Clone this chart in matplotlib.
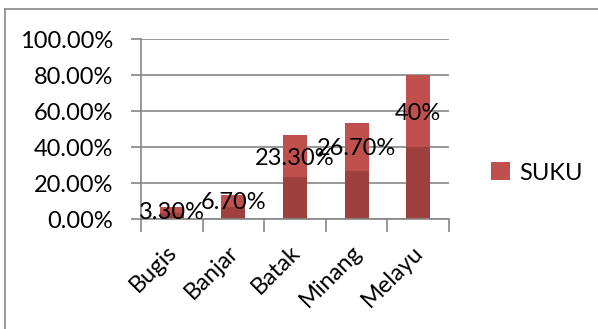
import numpy as np
import matplotlib
matplotlib.use('Agg')
from matplotlib import pyplot as plt
from matplotlib.lines import Line2D
from matplotlib.ticker import FixedLocator
from matplotlib.transforms import ScaledTranslation

# datos
suku = ['Bugis', 'Banjar', 'Batak', 'Minang', 'Melayu']
nilai = [3.3, 6.7, 23.3, 26.7, 40.0]
etiquetas = ['3.30%', '6.70%', '23.30%', '26.70%', '40%']
yticks = [0, 20, 40, 60, 80, 100]
yticklabels = ['0.00%', '20.00%', '40.00%', '60.00%', '80.00%', '100.00%']

plt.rcParams['font.family'] = ['Lato', 'DejaVu Sans']
fs = 17

fig = plt.figure(figsize=(5.98, 3.29), dpi=100)
ax = fig.add_axes([141/598, 1-219/329, (449-141)/598, (219-39)/329])

x = np.arange(len(suku))
v = np.array(nilai)
ax.bar(x, v, width=0.39, color='#9E413E', zorder=2)
ax.bar(x, v, bottom=v, width=0.39, color='#C0504D', zorder=2, label='SUKU')
for xi, vi, lab in zip(x, v, etiquetas):
    ax.text(xi, vi*1.5, lab, ha='center', va='center_baseline', fontsize=fs, zorder=3)

ax.set_xlim(-0.5, 4.5)
ax.set_ylim(0, 100)
ax.set_yticks(yticks)
ax.set_yticklabels(yticklabels, fontsize=fs)
ax.yaxis.grid(True, color='#868686', lw=1.2, zorder=0)
ax.set_axisbelow(True)
ax.tick_params(axis='y', length=7, color='#868686', width=1.2, pad=13)

ax.set_xticks(x)
ax.set_xticklabels(suku, fontsize=fs, rotation=45, ha='right', rotation_mode='anchor')
ax.xaxis.set_minor_locator(FixedLocator(np.arange(-0.5, 5, 1)))
ax.tick_params(axis='x', which='major', length=0, pad=9)
ax.tick_params(axis='x', which='minor', length=9, color='#868686', width=1.2)
desplaza = ScaledTranslation(-6/100, -10/100, fig.dpi_scale_trans)
for t in ax.get_xticklabels():
    t.set_transform(t.get_transform() + desplaza)

for s in ['top', 'right']:
    ax.spines[s].set_visible(False)
for s in ['left', 'bottom']:
    ax.spines[s].set_color('#868686')
    ax.spines[s].set_linewidth(1.2)

ax.legend(loc='center left', bbox_to_anchor=(1.068, 0.256), frameon=False, fontsize=fs,
          handlelength=0.8, handleheight=0.8, handletextpad=0.4)

# marco exterior
fig.add_artist(Line2D([5/598, 5/598], [0, 1-9/329], color='#888888', lw=1.2))
fig.add_artist(Line2D([5/598, 1], [1-9/329, 1-9/329], color='#888888', lw=1.2))

fig.savefig('out.png', dpi=100)
